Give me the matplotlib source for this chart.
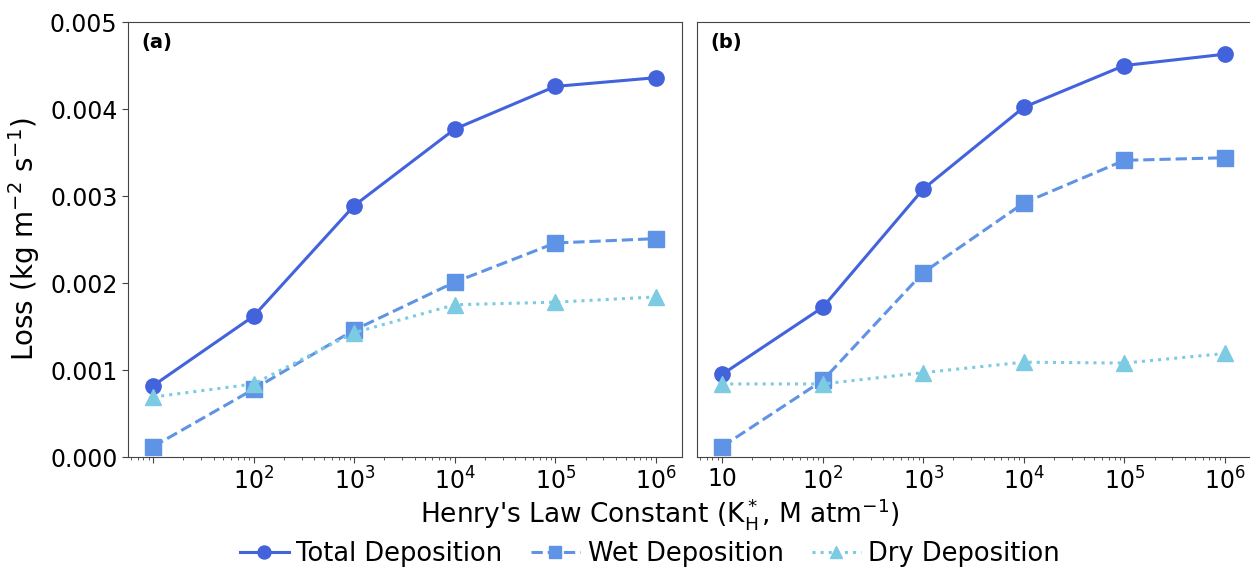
import numpy as np
import matplotlib.pyplot as plt

kh = [10, 1e2, 1e3, 1e4, 1e5, 1e6]

# panel (a)
total_a = [0.00082, 0.00162, 0.00289, 0.00377, 0.00426, 0.00436]
wet_a = [0.00012, 0.00078, 0.00146, 0.00201, 0.00246, 0.00251]
dry_a = [0.00069, 0.00084, 0.00143, 0.00175, 0.00178, 0.00184]

# panel (b)
total_b = [0.00095, 0.00172, 0.00308, 0.00402, 0.00450, 0.00463]
wet_b = [0.00012, 0.00088, 0.00212, 0.00292, 0.00341, 0.00344]
dry_b = [0.00084, 0.00084, 0.00097, 0.00109, 0.00108, 0.00119]

tick_labels_a = ['', '$10^2$', '$10^3$', '$10^4$', '$10^5$', '$10^6$']
tick_labels_b = ['10', '$10^2$', '$10^3$', '$10^4$', '$10^5$', '$10^6$']

c_total = '#4363dc'
c_wet = '#5f93e6'
c_dry = '#7ccbe2'

plt.rcParams['font.family'] = ['DejaVu Sans']
plt.rcParams['mathtext.fontset'] = 'dejavusans'

fig = plt.figure(figsize=(12.5, 5.69), dpi=100)
ax1 = fig.add_axes([0.1024, 0.1968, 0.4432, 0.7645])
ax2 = fig.add_axes([0.5576, 0.1968, 0.4432, 0.7645])

panels = [(ax1, total_a, wet_a, dry_a, tick_labels_a, '(a)'),
          (ax2, total_b, wet_b, dry_b, tick_labels_b, '(b)')]

for ax, tot, wet, dry, labs, tag in panels:
    ax.plot(kh, tot, '-o', color=c_total, lw=2.2, ms=11, label='Total Deposition')
    ax.plot(kh, wet, '--s', color=c_wet, lw=2.2, ms=11, label='Wet Deposition')
    ax.plot(kh, dry, ':^', color=c_dry, lw=2.2, ms=11, label='Dry Deposition')
    ax.set_xscale('log')
    ax.set_xlim(10 ** 0.75, 10 ** 6.26)
    ax.set_ylim(0, 0.005)
    ax.set_xticks(kh)
    ax.set_xticklabels(labs, fontsize=17)
    ax.tick_params(axis='both', labelsize=17, direction='out', length=4, color='#444444')
    ax.tick_params(axis='x', which='minor', length=2, color='#444444')
    for s in ax.spines.values():
        s.set_color('#444444')
    ax.text(0.025, 0.975, tag, transform=ax.transAxes, fontsize=14,
            fontweight='bold', va='top', ha='left')

ax1.set_yticks([0, 0.001, 0.002, 0.003, 0.004, 0.005])
ax1.set_yticklabels(['0.000', '0.001', '0.002', '0.003', '0.004', '0.005'])
ax1.set_ylabel('Loss (kg m$^{\\mathregular{-2}}$ s$^{\\mathregular{-1}}$)', fontsize=20,
               labelpad=6)
ax2.set_yticks([0, 0.001, 0.002, 0.003, 0.004, 0.005])
ax2.set_yticklabels([])
ax2.tick_params(axis='y', length=0)

fig.text(0.528, 0.097, "Henry's Law Constant (K$^*_\\mathrm{H}$, M atm$^{-1}$)",
         ha='center', va='center', fontsize=19)

handles, labels = ax1.get_legend_handles_labels()
fig.legend(handles, labels, loc='center', bbox_to_anchor=(0.52, 0.027), ncol=3,
           frameon=False, fontsize=18.5, handlelength=1.9, handletextpad=0.3,
           columnspacing=1.1, markerscale=0.85)

fig.savefig('out.png', dpi=100)
